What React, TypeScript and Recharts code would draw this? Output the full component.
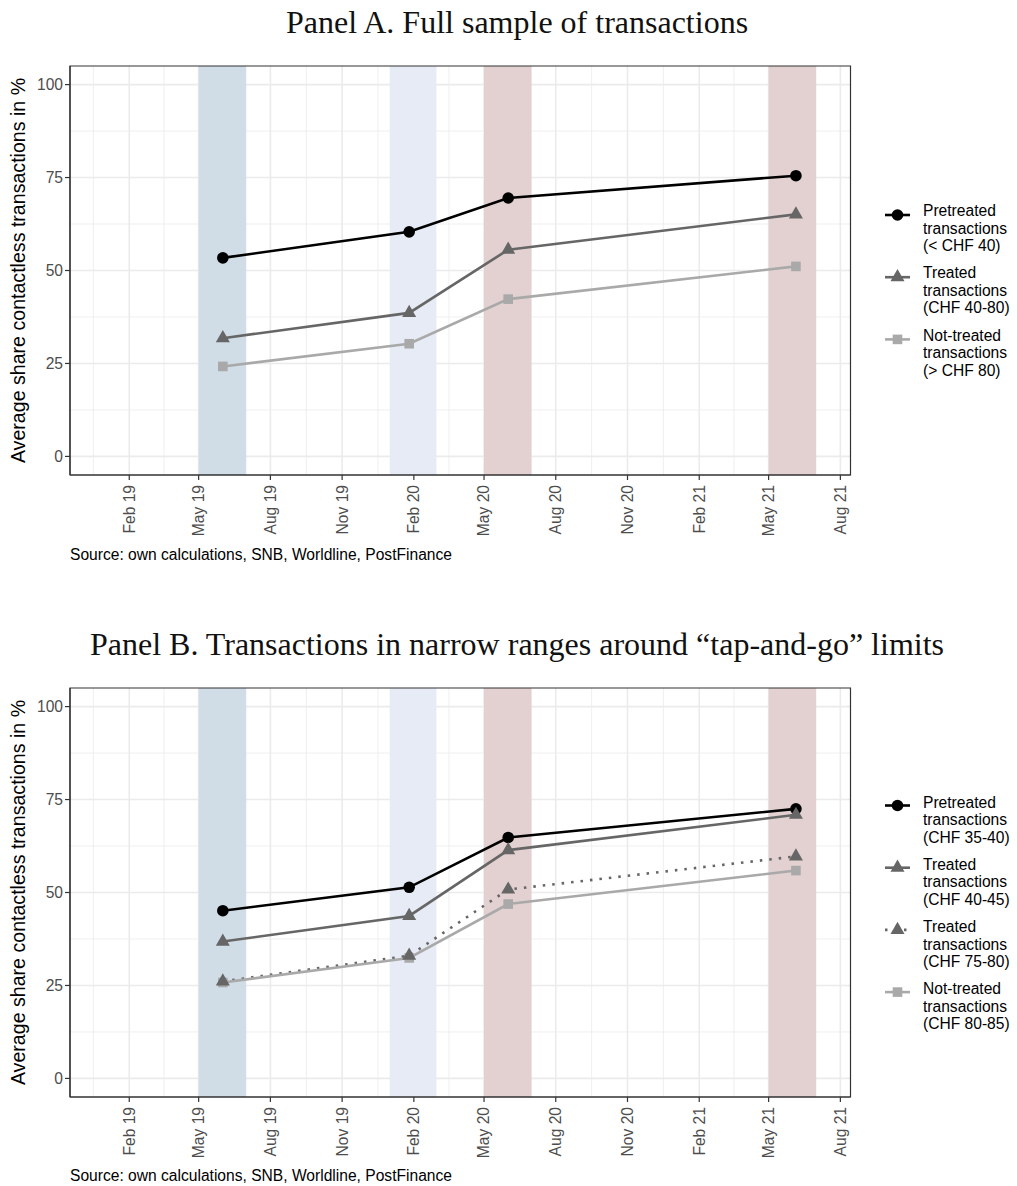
import React from 'react'
import { LineChart, Line, XAxis, YAxis, CartesianGrid, ReferenceArea } from 'recharts'

// survey waves (x) shared by both panels
const surveyDates = ['2019-06-01', '2020-01-26', '2020-06-01', '2021-06-05']

// Panel A: full sample, share contactless in %
const pretreatedA = [53.4, 60.4, 69.5, 75.5]
const treatedA = [31.8, 38.6, 55.6, 65.1]
const notTreatedA = [24.2, 30.3, 42.3, 51.1]

// Panel B: narrow ranges around the limits
const pretreatedB = [45.1, 51.4, 64.8, 72.5]
const treatedLowB = [36.8, 43.7, 61.4, 70.9]
const treatedHighB = [26.1, 33.0, 50.8, 59.7]
const notTreatedB = [25.8, 32.4, 46.9, 55.9]

const monthTicks = [
  '2019-02-01', '2019-05-01', '2019-08-01', '2019-11-01',
  '2020-02-01', '2020-05-01', '2020-08-01', '2020-11-01',
  '2021-02-01', '2021-05-01', '2021-08-01',
]
const yTicks = [0, 25, 50, 75, 100]
const yMinor = [12.5, 37.5, 62.5, 87.5]

// shaded policy windows
const periods = [
  { from: '2019-05-01', to: '2019-07-01', color: '#d0dde7' },
  { from: '2020-01-01', to: '2020-03-01', color: '#e7ebf6' },
  { from: '2020-05-01', to: '2020-07-01', color: '#e3d0d1' },
  { from: '2021-05-01', to: '2021-07-01', color: '#e3d0d1' },
]

const xStart = '2018-11-17'
const xEnd = '2021-08-14'
const MONTHS = ['Jan', 'Feb', 'Mar', 'Apr', 'May', 'Jun', 'Jul', 'Aug', 'Sep', 'Oct', 'Nov', 'Dec']

const ts = (d: string) => Date.parse(d + 'T00:00:00Z')
const fmtMonth = (v: number) => {
  const d = new Date(v)
  return `${MONTHS[d.getUTCMonth()]} ${String(d.getUTCFullYear()).slice(2)}`
}

const majorX = monthTicks.map(ts)
// minor grid halfway between breaks (ggplot style), incl. the one before Feb 19
const minorX = [ts('2018-11-01'), ...majorX]
  .slice(0, -1)
  .map((v, i, arr) => (v + (i + 1 < arr.length ? arr[i + 1] : majorX[majorX.length - 1])) / 2)

const SANS = '"Liberation Sans", Arial, sans-serif'
const SERIF = '"Liberation Serif", "Times New Roman", serif'
const W = 1017
const H = 600
const TICK_FONT = 15.6

type Shape = 'circle' | 'triangle' | 'square'
interface Series { key: string; label: string[]; values: number[]; color: string; shape: Shape; dash?: string }

const seriesA: Series[] = [
  { key: 'pre', label: ['Pretreated', 'transactions', '(< CHF 40)'], values: pretreatedA, color: '#000000', shape: 'circle' },
  { key: 'treated', label: ['Treated', 'transactions', '(CHF 40-80)'], values: treatedA, color: '#666666', shape: 'triangle' },
  { key: 'notTreated', label: ['Not-treated', 'transactions', '(> CHF 80)'], values: notTreatedA, color: '#a9a9a9', shape: 'square' },
]

const seriesB: Series[] = [
  { key: 'pre', label: ['Pretreated', 'transactions', '(CHF 35-40)'], values: pretreatedB, color: '#000000', shape: 'circle' },
  { key: 'treatedLow', label: ['Treated', 'transactions', '(CHF 40-45)'], values: treatedLowB, color: '#666666', shape: 'triangle' },
  { key: 'treatedHigh', label: ['Treated', 'transactions', '(CHF 75-80)'], values: treatedHighB, color: '#666666', shape: 'triangle', dash: '2.5 7' },
  { key: 'notTreated', label: ['Not-treated', 'transactions', '(CHF 80-85)'], values: notTreatedB, color: '#a9a9a9', shape: 'square' },
]

function Marker({ cx, cy, shape, color }: { cx: number; cy: number; shape: Shape; color: string }) {
  if (cx == null || cy == null) return null
  if (shape === 'circle') return <circle cx={cx} cy={cy} r={5.8} fill={color} />
  if (shape === 'square') return <rect x={cx - 4.8} y={cy - 4.8} width={9.6} height={9.6} fill={color} />
  const r = 5.2
  const pts = `${cx},${cy - 1.555 * r} ${cx + 1.347 * r},${cy + 0.778 * r} ${cx - 1.347 * r},${cy + 0.778 * r}`
  return <polygon points={pts} fill={color} />
}

function MonthTick(props: any) {
  const { x, y, payload } = props
  return (
    <text x={x} y={y} transform={`rotate(-90 ${x} ${y})`} textAnchor="end" dy="0.35em"
      fill="#4d4d4d" fontSize={TICK_FONT} fontFamily={SANS}>
      {fmtMonth(payload.value)}
    </text>
  )
}

interface PanelProps {
  top: number
  title: string
  series: Series[]
  pointOrder: string[]
  legendY: number
  keyShift: number
  captionY: number
}

function Panel({ top, title, series, pointOrder, legendY, keyShift, captionY }: PanelProps) {
  const rows = surveyDates.map((d, i) => {
    const row: Record<string, number> = { date: ts(d) }
    series.forEach(s => { row[s.key] = s.values[i] })
    return row
  })
  const byPoints = pointOrder.map(k => series.find(s => s.key === k)!)

  return (
    <div style={{ position: 'absolute', left: 0, top, width: W, height: H }}>
      <LineChart width={W} height={H} data={rows} margin={{ top: 66, right: 166.5, bottom: 0, left: 0 }}>
        <CartesianGrid stroke="#ebebeb" strokeWidth={0.8} horizontalValues={yMinor} verticalValues={minorX} />
        <CartesianGrid stroke="#ebebeb" strokeWidth={1.6} horizontalValues={yTicks} verticalValues={majorX} />
        {periods.map(p => (
          <ReferenceArea key={p.from} x1={ts(p.from)} x2={ts(p.to)} y1={-5} y2={105}
            fill={p.color} fillOpacity={1} stroke="none" ifOverflow="hidden" />
        ))}
        <XAxis type="number" dataKey="date" domain={[ts(xStart), ts(xEnd)]} allowDataOverflow
          ticks={majorX} interval={0} tick={<MonthTick />} tickSize={5} tickMargin={5} height={H - 475}
          axisLine={{ stroke: '#333333', strokeWidth: 1.2 }} tickLine={{ stroke: '#333333', strokeWidth: 1.2 }} />
        <YAxis type="number" domain={[-5, 105]} allowDataOverflow ticks={yTicks} interval={0} width={70}
          tickSize={5} tickMargin={2} tick={{ fill: '#4d4d4d', fontSize: TICK_FONT, fontFamily: SANS }}
          axisLine={{ stroke: '#333333', strokeWidth: 1.2 }} tickLine={{ stroke: '#333333', strokeWidth: 1.2 }} />
        {series.map(s => (
          <Line key={s.key} dataKey={s.key} stroke={s.color} strokeWidth={2.6} strokeDasharray={s.dash}
            dot={false} activeDot={false} isAnimationActive={false} />
        ))}
        {byPoints.map(s => (
          <Line key={s.key + '-pts'} dataKey={s.key} stroke="none" activeDot={false} isAnimationActive={false}
            dot={(p: any) => <Marker key={`${s.key}-${p.index}`} cx={p.cx} cy={p.cy} shape={s.shape} color={s.color} />} />
        ))}
        <ReferenceArea x1={ts(xStart)} x2={ts(xEnd)} y1={-5} y2={105} fill="none" stroke="#333333" strokeWidth={1.2} />
      </LineChart>

      <svg width={W} height={H} style={{ position: 'absolute', left: 0, top: 0, pointerEvents: 'none', overflow: 'visible' }}>
        <text x={517} y={33.3} textAnchor="middle" fontFamily={SERIF} fontSize={32} fill="#111111">{title}</text>
        <text transform="rotate(-90)" x={-270.5} y={24.5} textAnchor="middle" fontFamily={SANS} fontSize={19.6} fill="#000000">
          Average share contactless transactions in %
        </text>
        <text x={70} y={captionY} fontFamily={SANS} fontSize={TICK_FONT} fill="#000000">
          Source: own calculations, SNB, Worldline, PostFinance
        </text>
        {series.map((s, i) => {
          const y0 = legendY + i * 62.2
          const ky = y0 + keyShift
          return (
            <g key={s.key}>
              <line x1={885} x2={910} y1={ky} y2={ky} stroke={s.color} strokeWidth={2.6} strokeDasharray={s.dash} />
              <Marker cx={897.5} cy={ky} shape={s.shape} color={s.color} />
              {s.label.map((t, j) => (
                <text key={j} x={923} y={y0 + j * 17.5} dominantBaseline="central" fontFamily={SANS}
                  fontSize={TICK_FONT} fill="#000000">{t}</text>
              ))}
            </g>
          )
        })}
      </svg>
    </div>
  )
}

export default function App() {
  return (
    <div style={{ position: 'absolute', left: 0, top: 0, width: W, height: 1186, background: '#ffffff' }}>
      <Panel top={0} title="Panel A. Full sample of transactions"
        series={seriesA} pointOrder={['pre', 'treated', 'notTreated']}
        legendY={210.7} keyShift={4.3} captionY={560} />
      <Panel top={621.5} title="Panel B. Transactions in narrow ranges around “tap-and-go” limits"
        series={seriesB} pointOrder={['pre', 'treatedLow', 'notTreated', 'treatedHigh']}
        legendY={180.2} keyShift={3.3} captionY={558.5} />
    </div>
  )
}
